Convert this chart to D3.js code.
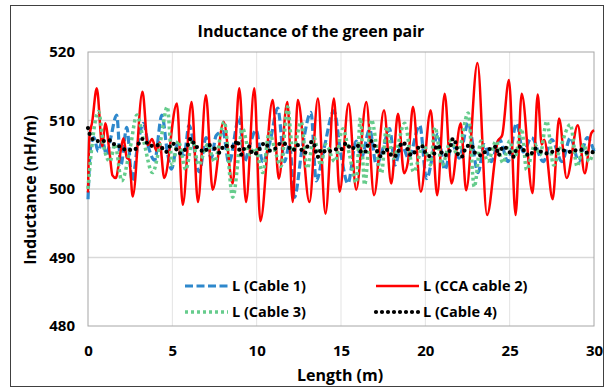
<!DOCTYPE html>
<html>
<head>
<meta charset="utf-8">
<script src="https://cdn.jsdelivr.net/npm/d3@7"></script>
<style>
  body { margin: 0; background: #fff; }
  text { font-family: "Open Sans", "Noto Sans", sans-serif; font-weight: 700; fill: #000; }
</style>
</head>
<body>
<div class="chart"></div>
<script>
// length (m) / inductance (nH/m)
const cable1X = [0, 0.15, 0.35, 0.6, 0.85, 1.1, 1.35, 1.7, 1.95, 2.3, 2.62, 2.95, 3.29, 3.6, 3.95, 4.38, 4.7, 4.95, 5.3, 5.7, 5.99, 6.6, 7.0, 7.3, 7.6, 8.0, 8.35, 8.97, 9.27, 9.6, 9.96, 10.36, 10.8, 11.25, 11.65, 11.95, 12.24, 12.7, 13.22, 13.53, 14.0, 14.58, 15.0, 15.41, 15.9, 16.2, 16.7, 17.1, 17.5, 17.88, 18.2, 18.6, 19.0, 19.67, 20.07, 20.75, 21.15, 21.6, 22.0, 22.54, 23.13, 23.5, 23.9, 24.4, 24.9, 25.41, 25.8, 26.3, 26.99, 27.5, 28.1, 28.6, 29.1, 29.6, 30];
const cable1L = [498.5, 506.0, 507.5, 505.5, 507.0, 505.0, 507.5, 510.8, 503.5, 509.0, 501.2, 506.5, 509.6, 506.0, 504.2, 510.8, 505.5, 502.9, 506.5, 505.0, 509.3, 502.5, 507.5, 504.5, 507.8, 508.4, 503.8, 510.5, 504.0, 506.5, 508.6, 504.0, 507.0, 511.8, 504.0, 506.5, 498.8, 506.0, 511.2, 501.2, 506.0, 511.4, 505.0, 500.8, 507.0, 504.5, 508.7, 503.5, 506.0, 508.8, 503.5, 506.5, 504.5, 509.3, 501.5, 508.0, 502.8, 506.5, 504.5, 509.6, 502.4, 506.5, 504.0, 507.2, 504.0, 509.6, 505.4, 507.5, 504.0, 507.2, 504.0, 507.5, 504.0, 507.5, 505.5];

const cable2X = [0, 0.08, 0.25, 0.52, 0.85, 1.02, 1.28, 1.45, 1.65, 1.9, 2.1, 2.3, 2.45, 2.65, 3.23, 3.55, 3.8, 4.05, 4.25, 4.52, 5.27, 5.62, 6.14, 6.52, 6.99, 7.39, 8.04, 8.58, 8.97, 9.37, 9.86, 10.22, 10.95, 11.31, 11.82, 12.14, 12.44, 13.13, 13.63, 14.08, 14.58, 14.92, 15.45, 15.9, 16.5, 16.96, 17.55, 17.98, 18.38, 18.74, 18.97, 19.27, 19.73, 20.32, 20.7, 21.15, 21.55, 22.1, 22.42, 23.09, 23.66, 24.3, 24.55, 24.96, 25.35, 25.71, 26.36, 26.66, 26.9, 27.05, 27.55, 27.93, 28.38, 29.04, 29.45, 29.83, 30];
const cable2L = [499.5, 507.5, 509.8, 514.7, 506.2, 509.6, 505.3, 502.0, 501.6, 505.0, 507.4, 504.6, 504.3, 498.9, 514.2, 506.4, 507.3, 505.6, 506.8, 501.6, 512.5, 497.7, 512.7, 498.1, 513.7, 499.9, 509.8, 500.8, 514.7, 498.1, 514.7, 495.3, 513.0, 501.5, 512.7, 498.1, 513.0, 498.1, 513.2, 496.4, 513.2, 499.6, 512.5, 499.9, 512.7, 499.1, 511.5, 500.8, 511.0, 502.3, 504.0, 512.0, 499.6, 511.5, 499.1, 513.9, 500.8, 509.6, 499.8, 518.4, 496.2, 507.0, 507.8, 515.9, 496.2, 513.9, 499.4, 513.8, 506.5, 507.2, 498.5, 510.3, 501.6, 509.3, 502.3, 508.1, 508.6];

const cable3X = [0, 0.2, 0.62, 0.95, 1.3, 1.6, 2.0, 2.5, 2.9, 3.3, 3.82, 4.3, 4.7, 5.0, 5.35, 5.8, 6.2, 6.55, 7.1, 7.5, 8.08, 8.58, 9.17, 9.6, 9.9, 10.36, 10.75, 11.1, 11.45, 11.83, 12.15, 12.64, 13.0, 13.4, 13.8, 14.1, 14.63, 15.11, 15.5, 15.9, 16.15, 16.4, 16.8, 17.4, 17.7, 18.1, 18.78, 19.3, 19.9, 20.3, 20.57, 21.0, 21.5, 21.9, 22.54, 22.9, 23.3, 23.7, 24.2, 24.6, 25.0, 25.3, 25.71, 26.0, 26.5, 26.8, 27.2, 27.6, 28.0, 28.6, 29.0, 29.4, 29.7, 30];
const cable3L = [500.0, 505.5, 511.3, 506.0, 504.0, 506.5, 501.2, 506.0, 510.8, 507.0, 502.4, 507.0, 512.0, 503.5, 507.0, 502.8, 507.0, 503.5, 506.5, 504.0, 509.8, 498.8, 508.8, 505.0, 506.0, 502.4, 508.3, 505.5, 503.3, 512.0, 505.5, 509.8, 503.0, 507.5, 503.5, 506.5, 504.0, 508.8, 505.0, 500.9, 510.4, 500.6, 510.1, 502.3, 509.1, 504.5, 509.6, 502.5, 506.5, 503.5, 509.0, 503.5, 507.0, 505.0, 511.1, 500.3, 507.0, 504.0, 507.0, 503.8, 507.0, 504.5, 508.8, 502.8, 506.5, 505.0, 509.9, 503.5, 506.0, 509.4, 503.3, 506.5, 504.0, 506.0];

const cable4X = [0, 0.12, 0.46, 0.85, 1.35, 1.64, 1.94, 2.24, 2.73, 3.23, 3.72, 4.22, 4.62, 5.01, 5.41, 5.9, 6.1, 6.3, 6.6, 6.9, 7.2, 7.5, 7.8, 8.08, 8.38, 8.68, 8.83, 9.07, 9.27, 9.57, 9.76, 10.06, 10.26, 10.55, 10.75, 11.05, 11.45, 11.75, 12.14, 12.44, 12.84, 13.03, 13.33, 13.63, 13.82, 14.12, 14.72, 15.02, 15.31, 15.61, 15.96, 16.2, 16.4, 16.6, 16.83, 17.1, 17.4, 17.6, 17.79, 18.08, 18.38, 18.48, 18.68, 18.97, 19.17, 19.47, 19.77, 19.97, 20.27, 20.57, 20.67, 20.86, 21.06, 21.36, 21.65, 21.85, 21.95, 22.15, 22.44, 22.74, 22.94, 23.34, 23.64, 23.93, 24.22, 24.32, 24.62, 24.91, 25.21, 25.41, 25.71, 25.9, 26.2, 26.5, 26.9, 27.2, 27.5, 27.8, 28.28, 28.68, 28.98, 29.28, 29.58, 30];
const cable4L = [508.9, 507.9, 507.0, 507.0, 507.1, 506.3, 506.2, 505.7, 505.7, 507.3, 506.3, 506.4, 505.4, 506.7, 505.2, 506.3, 507.4, 506.5, 505.9, 505.4, 506.4, 505.9, 505.3, 506.4, 506.2, 506.2, 507.1, 505.0, 505.9, 506.2, 505.1, 505.3, 506.3, 506.7, 505.6, 505.8, 506.7, 506.5, 505.6, 506.4, 505.2, 506.3, 506.9, 504.7, 505.8, 505.4, 505.8, 505.8, 506.7, 505.8, 506.4, 505.4, 505.3, 506.4, 507.0, 505.7, 504.7, 505.8, 505.6, 504.7, 505.2, 506.2, 506.8, 505.7, 504.9, 505.7, 506.4, 505.4, 504.8, 505.3, 506.4, 506.0, 504.9, 505.1, 507.4, 506.2, 504.9, 504.7, 506.2, 506.4, 505.3, 504.9, 505.7, 505.9, 506.2, 504.9, 506.2, 505.7, 504.7, 505.8, 506.2, 505.3, 504.9, 505.9, 505.4, 505.2, 505.4, 505.7, 505.6, 505.4, 505.7, 505.7, 505.3, 505.4];

const seriesNames = ['L (Cable 1)', 'L (CCA cable 2)', 'L (Cable 3)', 'L (Cable 4)'];
const xTicks = [0, 5, 10, 15, 20, 25, 30];
const yTicks = [480, 490, 500, 510, 520];

const W = 609, H = 392;
const plot = { left: 88, right: 594, top: 52, bottom: 326 };

const x = d3.scaleLinear().domain([0, 30]).range([plot.left, plot.right]);
const y = d3.scaleLinear().domain([480, 520]).range([plot.bottom, plot.top]);

const svg = d3.select('.chart').append('svg')
  .attr('width', W)
  .attr('height', H);

svg.append('rect')
  .attr('x', 10.5).attr('y', 5.5)
  .attr('width', 593).attr('height', 381)
  .attr('fill', '#fff')
  .attr('stroke', '#404040');

// grid
svg.append('g').selectAll('line')
  .data(xTicks.slice(1, -1))
  .enter().append('line')
  .attr('x1', d => x(d)).attr('x2', d => x(d))
  .attr('y1', plot.top).attr('y2', plot.bottom)
  .attr('stroke', '#e3e3e3');

svg.append('g').selectAll('line')
  .data(yTicks.slice(1, -1))
  .enter().append('line')
  .attr('x1', plot.left).attr('x2', plot.right)
  .attr('y1', d => y(d)).attr('y2', d => y(d))
  .attr('stroke', '#d9d9d9')
  .attr('stroke-width', 1.5);

svg.append('rect')
  .attr('x', plot.left).attr('y', plot.top)
  .attr('width', plot.right - plot.left).attr('height', plot.bottom - plot.top)
  .attr('fill', 'none')
  .attr('stroke', '#a6a6a6');

// axes
const xAxis = svg.append('g')
  .attr('transform', `translate(0, ${plot.bottom})`)
  .call(d3.axisBottom(x).tickValues(xTicks).tickSize(0).tickPadding(19));
xAxis.select('.domain').remove();
xAxis.selectAll('text').attr('font-size', 15).style('font-family', null);

const yAxis = svg.append('g')
  .attr('transform', `translate(${plot.left}, 0)`)
  .call(d3.axisLeft(y).tickValues(yTicks).tickSize(0).tickPadding(13));
yAxis.select('.domain').remove();
yAxis.selectAll('text').attr('font-size', 15).style('font-family', null);

// series
const styles = [
  { color: '#2E88CC', width: 3.2, dash: '8,3.5', cap: 'butt' },
  { color: '#FF0000', width: 2.5, dash: null, cap: 'butt' },
  { color: '#66CC8C', width: 3.5, dash: '3,3', cap: 'butt' },
  { color: '#000000', width: 4.2, dash: '0,6', cap: 'round' }
];
const allX = [cable1X, cable2X, cable3X, cable4X];
const allL = [cable1L, cable2L, cable3L, cable4L];

const line = d3.line()
  .x(d => x(d[0]))
  .y(d => y(d[1]))
  .curve(d3.curveMonotoneX);

allX.forEach((xs, i) => {
  const pts = xs.map((v, j) => [v, allL[i][j]]);
  svg.append('path')
    .datum(pts)
    .attr('d', line)
    .attr('fill', 'none')
    .attr('stroke', styles[i].color)
    .attr('stroke-width', styles[i].width)
    .attr('stroke-dasharray', styles[i].dash)
    .attr('stroke-linecap', styles[i].cap);
});

// legend
const legendPos = [[185, 286], [376, 286], [185, 312], [376, 312]];
seriesNames.forEach((name, i) => {
  const [lx, ly] = legendPos[i];
  svg.append('line')
    .attr('x1', lx).attr('x2', lx + 43)
    .attr('y1', ly).attr('y2', ly)
    .attr('stroke', styles[i].color)
    .attr('stroke-width', i === 1 ? 2.5 : styles[i].width)
    .attr('stroke-dasharray', styles[i].dash)
    .attr('stroke-linecap', styles[i].cap);
  svg.append('text')
    .attr('x', lx + 47).attr('y', ly)
    .attr('dy', '0.35em')
    .attr('font-size', 14.5)
    .text(name);
});

// titles
svg.append('text')
  .attr('x', 311).attr('y', 31)
  .attr('dy', '0.35em')
  .attr('text-anchor', 'middle')
  .attr('font-size', 16)
  .text('Inductance of the green pair');

svg.append('text')
  .attr('x', 340).attr('y', 375)
  .attr('dy', '0.35em')
  .attr('text-anchor', 'middle')
  .attr('font-size', 16)
  .text('Length (m)');

svg.append('text')
  .attr('transform', 'translate(30, 190) rotate(-90)')
  .attr('dy', '0.35em')
  .attr('text-anchor', 'middle')
  .attr('font-size', 16)
  .text('Inductance (nH/m)');
</script>
</body>
</html>
